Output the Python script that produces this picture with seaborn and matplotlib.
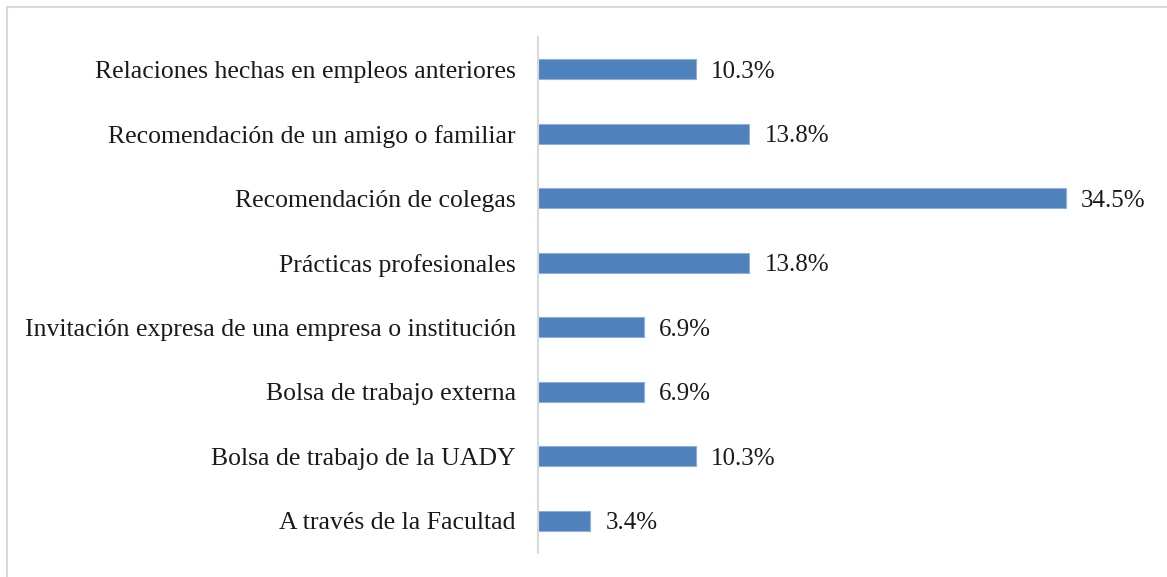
import pandas as pd
import matplotlib.pyplot as plt
import seaborn as sns
from matplotlib.lines import Line2D

categorias = [
    'Relaciones hechas en empleos anteriores',
    'Recomendación de un amigo o familiar',
    'Recomendación de colegas',
    'Prácticas profesionales',
    'Invitación expresa de una empresa o institución',
    'Bolsa de trabajo externa',
    'Bolsa de trabajo de la UADY',
    'A través de la Facultad',
]
porcentajes = [10.3, 13.8, 34.5, 13.8, 6.9, 6.9, 10.3, 3.4]

data = pd.DataFrame({'categoria': categorias, 'pct': porcentajes})

sns.set_style('white')
plt.rcParams['font.family'] = ['Liberation Serif', 'DejaVu Serif']

fig = plt.figure(figsize=(11.67, 5.77), dpi=100)
ax = fig.add_axes([538 / 1167, 1 - 553 / 577, 612 / 1167, 516 / 577])

sns.barplot(data=data, x='pct', y='categoria', color='#4F81BD', saturation=1,
            width=0.31, edgecolor='#8FB0DA', linewidth=0.8, ax=ax)

for i, v in enumerate(porcentajes):
    ax.text(v + 1.0, i, f'{v}%', va='center_baseline', ha='left', fontsize=18, color='#1a1a1a')

ax.set_xlim(0, 40)
ax.set_ylim(7.5, -0.5)
ax.set_xlabel('')
ax.set_ylabel('')
ax.set_xticks([])
ax.tick_params(axis='y', length=0, pad=16, labelsize=18.5, labelcolor='#1a1a1a')
for lbl in ax.get_yticklabels():
    lbl.set_verticalalignment('center_baseline')
for s in ['top', 'right', 'bottom']:
    ax.spines[s].set_visible(False)
ax.spines['left'].set_color('#D9D9D9')
ax.spines['left'].set_linewidth(1.5)

# chart frame (left and top edges visible)
fig.add_artist(Line2D([7 / 1167, 7 / 1167], [0, 1 - 7 / 577], transform=fig.transFigure,
                      color='#D9D9D9', linewidth=1.5))
fig.add_artist(Line2D([7 / 1167, 1], [1 - 7 / 577, 1 - 7 / 577], transform=fig.transFigure,
                      color='#D9D9D9', linewidth=1.5))

fig.savefig('out.png', dpi=100)
